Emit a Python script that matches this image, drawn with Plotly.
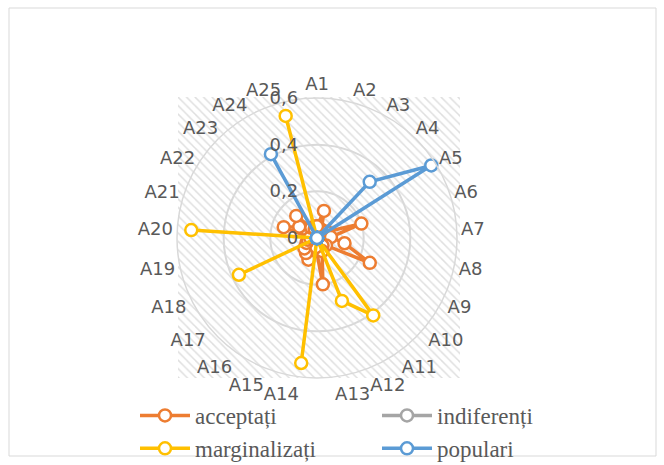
import plotly.graph_objects as go

categories = [f"A{i}" for i in range(1, 26)]

acceptati = [0.05, 0.12, 0.04, 0.03, 0.05, 0.20, 0.06, 0.12, 0.25, 0.05,
             0.04, 0.06, 0.20, 0.04, 0.10, 0.08, 0.07, 0.05, 0.04, 0.03,
             0.15, 0.09, 0.13, 0.05, 0.04]
indiferenti = [0.0] * 25
marginalizati = [0, 0, 0, 0, 0, 0, 0, 0, 0, 0,
                 0.41, 0.29, 0, 0.54, 0, 0, 0, 0.37, 0, 0.54,
                 0, 0, 0, 0, 0.54]
populari = [0, 0, 0, 0.33, 0.58, 0, 0, 0, 0, 0,
            0, 0, 0, 0, 0, 0, 0, 0, 0, 0,
            0, 0, 0, 0.41, 0]

series = [
    ("acceptați", acceptati, "#ED7D31"),
    ("indiferenți", indiferenti, "#A5A5A5"),
    ("marginalizați", marginalizati, "#FFC000"),
    ("populari", populari, "#5B9BD5"),
]

W, H = 664, 465
fig = go.Figure()

# hatched plot-area background
fig.add_trace(go.Scatter(
    x=[0, 1, 1, 0, 0], y=[0, 0, 1, 1, 0], mode="lines", fill="toself",
    line=dict(width=0, color="rgba(0,0,0,0)"),
    fillcolor="white",
    fillpattern=dict(shape="\\", fgcolor="#C0C0C0", bgcolor="white", size=6, solidity=0.25),
    hoverinfo="skip", showlegend=False, xaxis="x", yaxis="y"))

for name, vals, col in series:
    fig.add_trace(go.Scatterpolar(
        r=vals + vals[:1], theta=categories + categories[:1],
        mode="lines+markers", name=name,
        line=dict(color=col, width=3.5),
        marker=dict(symbol="circle", size=12, color="white", line=dict(color=col, width=2.5)),
        cliponaxis=False))

fig.update_layout(
    width=W, height=H,
    margin=dict(l=0, r=0, t=0, b=0, autoexpand=False),
    paper_bgcolor="white", plot_bgcolor="rgba(0,0,0,0)",
    separators=",.",
    xaxis=dict(domain=[178 / W, 460 / W], range=[0, 1], visible=False, fixedrange=True),
    yaxis=dict(domain=[1 - 378 / H, 1 - 97 / H], range=[0, 1], visible=False, fixedrange=True),
    polar=dict(
        domain=dict(x=[177 / W, 457 / W], y=[1 - 378 / H, 1 - 98 / H]),
        bgcolor="rgba(0,0,0,0)",
        radialaxis=dict(range=[0, 0.6], dtick=0.2, tickformat=".1~f", angle=90,
                        side="counterclockwise", tickangle=90,
                        showline=False, ticks="outside", ticklen=12, tickcolor="rgba(0,0,0,0)",
                        gridcolor="#D9D9D9", gridwidth=1.5,
                        tickfont=dict(family="DejaVu Sans", size=18, color="#595959")),
        angularaxis=dict(direction="clockwise", rotation=90, showgrid=False,
                         linecolor="#D9D9D9", linewidth=1.5, ticks="",
                         tickfont=dict(family="DejaVu Sans", size=18, color="#595959")),
    ),
    legend=dict(orientation="h", x=135 / W, y=1 - 394 / H, xanchor="left", yanchor="top",
                entrywidth=177, entrywidthmode="pixels", itemwidth=50,
                font=dict(family="Liberation Serif", size=23, color="#595959"),
                bgcolor="rgba(0,0,0,0)", tracegroupgap=0),
    shapes=[dict(type="rect", xref="paper", yref="paper",
                 x0=9 / W, x1=656 / W, y0=1 - 456 / H, y1=1 - 8 / H,
                 line=dict(color="#D9D9D9", width=1), fillcolor="rgba(0,0,0,0)", layer="below")],
)

fig.write_html("out.html", config={"displayModeBar": False},
               post_script="document.body.style.margin='0px';")
